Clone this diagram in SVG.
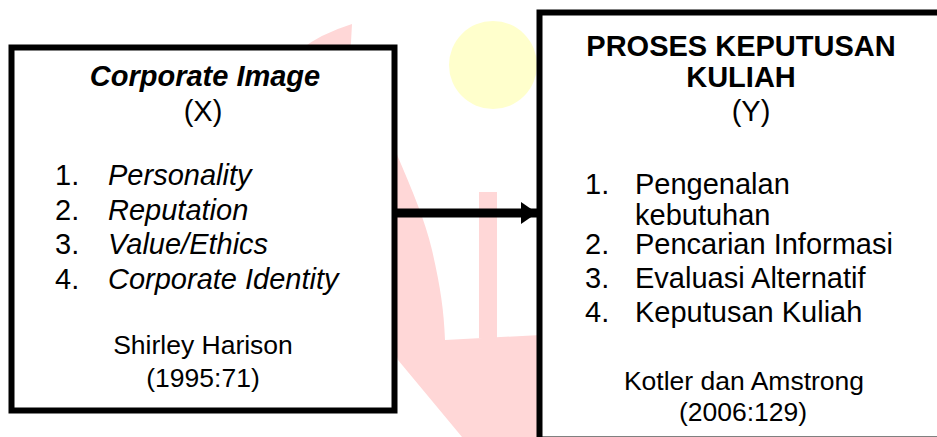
<svg xmlns="http://www.w3.org/2000/svg" width="937" height="437" viewBox="0 0 937 437">
  <style>
    .box { fill: #ffffff; stroke: #000000; stroke-width: 6; }
    .t { font-family: "Liberation Sans", Arial, sans-serif; font-size: 29px; fill: #000000; }
    .title { font-weight: bold; }
    .it { font-style: italic; }
    .ref { font-size: 26.5px; }
    .mid { text-anchor: middle; }
    .conn { stroke: #000000; stroke-width: 9; fill: none; }
    .wm-red { fill: #FFD7D7; }
  </style>
  <defs>
    <marker id="arrow" markerUnits="userSpaceOnUse" markerWidth="16" markerHeight="22" refX="16" refY="11" orient="auto">
      <polygon points="0,0 16,11 0,22" fill="#000000"/>
    </marker>
  </defs>
  <rect width="937" height="437" fill="#ffffff"/>
  <g id="watermark">
    <circle cx="493" cy="65" r="44" fill="#FFFFCC"/>
    <path class="wm-red" d="M352,24 L350,60 C370,100 390,130 398,157 C412,190 425,220 432,250 C440,285 444,310 445,340 L560,334 L560,437 L462,437 L398,360 L300,50 Q320,34 352,24 Z"/>
    <rect class="wm-red" x="479" y="192" width="18" height="146"/>
  </g>
  <g id="connectors">
    <line class="conn" x1="397" y1="213" x2="537" y2="213" marker-end="url(#arrow)"/>
  </g>
  <g id="node-x">
    <rect class="box" x="11.5" y="47.5" width="383" height="363"/>
    <text class="t title it mid" x="205" y="86">Corporate Image</text>
    <text class="t mid" x="203" y="121">(X)</text>
    <text class="t" x="55" y="185">1.</text>
    <text class="t it" x="108" y="185">Personality</text>
    <text class="t" x="55" y="220">2.</text>
    <text class="t it" x="108" y="220">Reputation</text>
    <text class="t" x="55" y="254">3.</text>
    <text class="t it" x="108" y="254">Value/Ethics</text>
    <text class="t" x="55" y="289">4.</text>
    <text class="t it" x="108" y="289">Corporate Identity</text>
    <text class="t ref mid" x="203" y="354">Shirley Harison</text>
    <text class="t ref mid" x="203" y="387">(1995:71)</text>
  </g>
  <g id="node-y">
    <rect class="box" x="539.5" y="12.5" width="420" height="427"/>
    <text class="t title mid" x="741" y="56">PROSES KEPUTUSAN</text>
    <text class="t title mid" x="741" y="87">KULIAH</text>
    <text class="t mid" x="751" y="121">(Y)</text>
    <text class="t" x="585" y="194">1.</text>
    <text class="t" x="635" y="194">Pengenalan</text>
    <text class="t" x="635" y="225">kebutuhan</text>
    <text class="t" x="585" y="254">2.</text>
    <text class="t" x="635" y="254">Pencarian Informasi</text>
    <text class="t" x="585" y="288">3.</text>
    <text class="t" x="635" y="288">Evaluasi Alternatif</text>
    <text class="t" x="585" y="322">4.</text>
    <text class="t" x="635" y="322">Keputusan Kuliah</text>
    <text class="t ref mid" x="744" y="390">Kotler dan Amstrong</text>
    <text class="t ref mid" x="743" y="421">(2006:129)</text>
  </g>
</svg>
